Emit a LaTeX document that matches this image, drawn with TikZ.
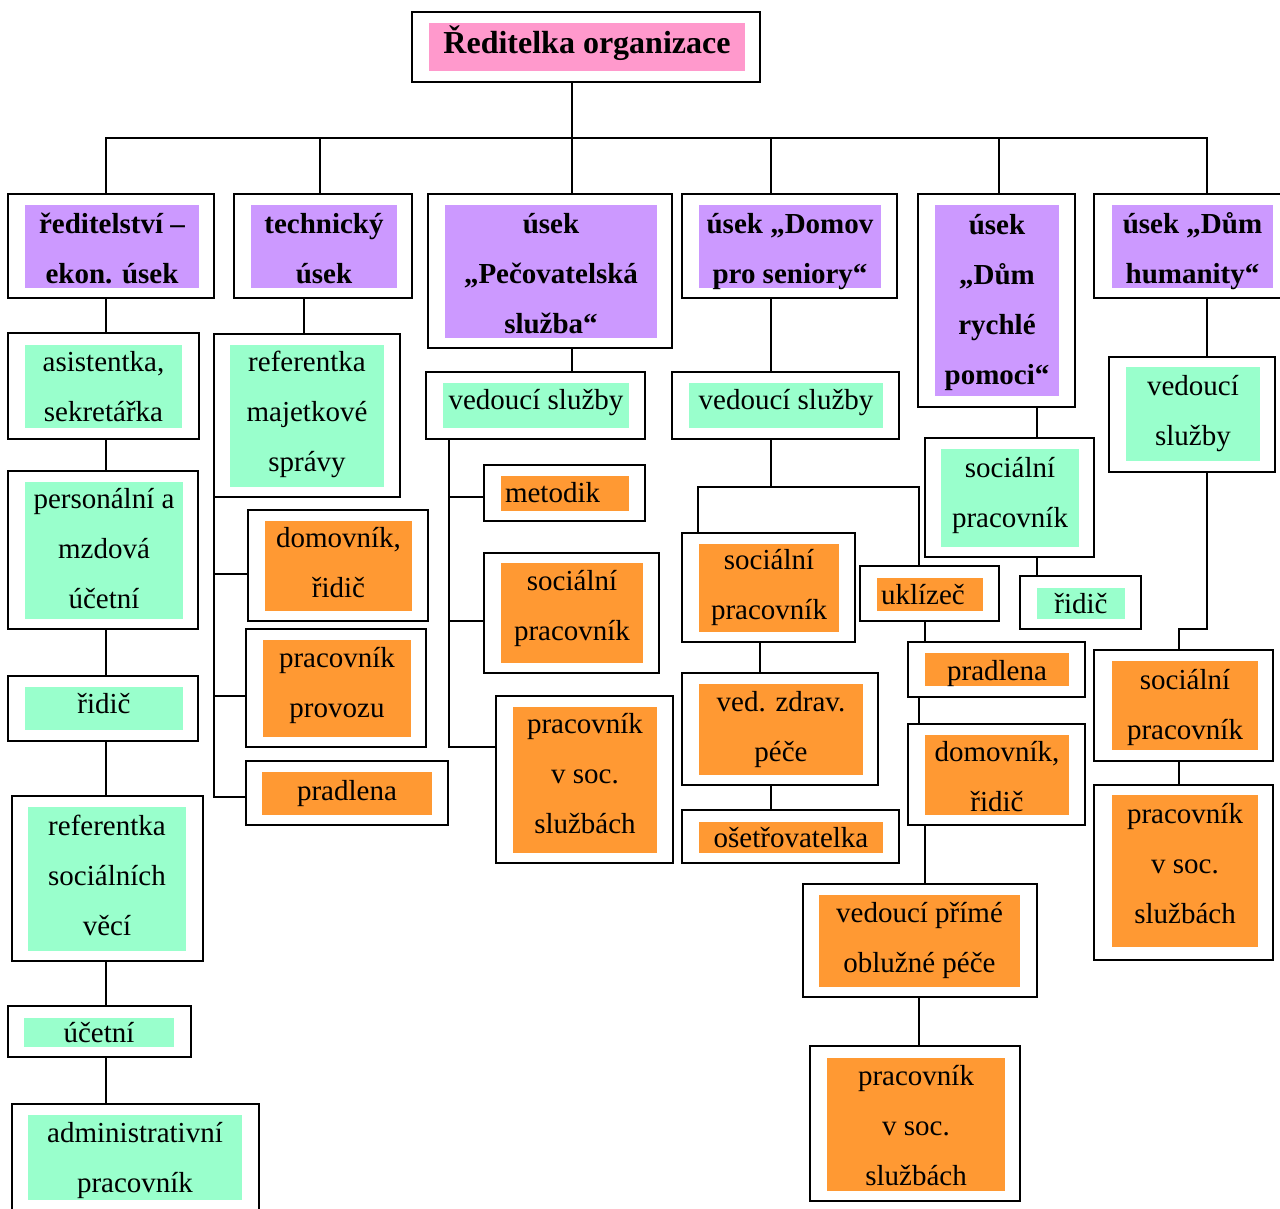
\documentclass[tikz,border=0pt]{standalone}
\usepackage{fontspec}
\setmainfont{Liberation Serif}
\definecolor{cpink}{HTML}{FF99CC}
\definecolor{cpurple}{HTML}{CC99FF}
\definecolor{cgreen}{HTML}{99FFCC}
\definecolor{corange}{HTML}{FF9933}
\newcommand\sr{\rule[-0.22em]{0pt}{0.72em}}
\newcommand\OB[5]{\node[ob,minimum width={(#4)-(#2)},minimum height={(#5)-(#3)}] (#1) at ({((#2)+(#4))/2},{((#3)+(#5))/2}) {};}
\newcommand\IB[8]{\fill[#6] (#2,#3) rectangle (#4,#5);
  \node[#7] (#1) at ({((#2)+(#4))/2},{((#3)+(#5))/2}) {\sr #8\sr};}
\begin{document}
\begin{tikzpicture}[x=1pt,y=-1pt,
  ob/.style={draw=black,line width=2pt,fill=white,inner sep=0pt,outer sep=0pt},
  tx/.style={inner sep=0pt,align=center,font=\fontsize{29pt}{50pt}\selectfont},
  hd/.style={tx,font=\fontsize{29pt}{50pt}\selectfont\bfseries,yshift=-5pt},
  lt/.style={tx,align=left,text width=#1},
  conn/.style={line width=2pt}]
\useasboundingbox (0,0) rectangle (1280,1208);
\fill[white] (0,0) rectangle (1280,1208);
% top
\OB{top}{412}{12}{760}{82}
\IB{topi}{429}{23}{745}{71}{cpink}{tx,font=\fontsize{32pt}{40pt}\selectfont\bfseries,yshift=4pt}{Ředitelka organizace}
% level 1
\OB{s1}{8}{194}{214}{298}
\IB{s1i}{25}{205}{199}{288}{cpurple}{hd}{ředitelství –\\ekon. úsek}
\OB{s2}{234}{194}{412}{298}
\IB{s2i}{251}{205}{397}{288}{cpurple}{hd}{technický\\úsek}
\OB{s3}{428}{194}{672}{348}
\IB{s3i}{445}{205}{657}{338}{cpurple}{hd}{úsek\\„Pečovatelská\\služba“}
\OB{s4}{682}{194}{897}{298}
\IB{s4i}{699}{205}{881}{288}{cpurple}{hd}{úsek „Domov\\pro seniory“}
\OB{s5}{918}{194}{1075}{407}
\IB{s5i}{935}{205}{1059}{396}{cpurple}{hd,yshift=3pt}{úsek\\„Dům\\rychlé\\pomoci“}
\OB{s6}{1094}{194}{1290}{298}
\IB{s6i}{1112}{205}{1273}{288}{cpurple}{hd}{úsek „Dům\\humanity“}
% column 1
\OB{a1}{8}{333}{199}{439}
\IB{a1i}{25}{345}{182}{428}{cgreen}{tx,yshift=-3pt}{asistentka,\\sekretářka}
\OB{a2}{8}{471}{198}{629}
\IB{a2i}{25}{482}{183}{619}{cgreen}{tx,yshift=-1pt}{personální a\\mzdová\\účetní}
\OB{a3}{8}{676}{198}{741}
\IB{a3i}{25}{687}{183}{730}{cgreen}{tx,yshift=2pt}{řidič}
\OB{a4}{12}{796}{203}{961}
\IB{a4i}{28}{807}{186}{951}{cgreen}{tx,yshift=1pt}{referentka\\sociálních\\věcí}
\OB{a5}{8}{1006}{191}{1057}
\IB{a5i}{24}{1018}{174}{1047}{cgreen}{tx,yshift=-3pt}{účetní}
\OB{a6}{12}{1104}{259}{1215}
\IB{a6i}{28}{1115}{242}{1200}{cgreen}{tx,yshift=-3pt}{administrativní\\pracovník}
% column 2
\OB{m1}{214}{334}{400}{497}
\IB{m1i}{230}{345}{384}{487}{cgreen}{tx,yshift=2pt}{referentka\\majetkové\\správy}
\OB{m2}{248}{510}{428}{621}
\IB{m2i}{265}{521}{412}{611}{corange}{tx}{domovník,\\řidič}
\OB{m3}{246}{629}{426}{747}
\IB{m3i}{263}{640}{411}{737}{corange}{tx,yshift=3pt}{pracovník\\provozu}
\OB{m4}{246}{761}{448}{825}
\IB{m4i}{262}{772}{432}{815}{corange}{tx}{pradlena}
% column 3
\OB{pv}{426}{372}{645}{439}
\IB{pvi}{443}{383}{629}{428}{cgreen}{tx,yshift=3pt}{vedoucí služby}
\OB{pm}{484}{465}{645}{521}
\IB{pmi}{501}{476}{629}{511}{corange}{lt=120pt,yshift=-2pt}{metodik}
\OB{ps}{484}{553}{659}{673}
\IB{psi}{501}{563}{643}{663}{corange}{tx,yshift=4pt}{sociální\\pracovník}
\OB{pp}{496}{696}{673}{863}
\IB{ppi}{513}{707}{657}{853}{corange}{tx,yshift=3pt}{pracovník\\v soc.\\službách}
% column 4
\OB{dv}{672}{372}{899}{439}
\IB{dvi}{689}{383}{883}{428}{cgreen}{tx,yshift=3pt}{vedoucí služby}
\OB{ds}{682}{533}{855}{642}
\IB{dsi}{699}{544}{839}{632}{corange}{tx}{sociální\\pracovník}
\OB{vz}{682}{673}{878}{785}
\IB{vzi}{699}{684}{863}{775}{corange}{tx}{ved. zdrav.\\péče}
\OB{os}{682}{810}{899}{863}
\IB{osi}{699}{822}{883}{853}{corange}{tx,yshift=-3pt}{ošetřovatelka}
\OB{uk}{860}{566}{999}{621}
\IB{uki}{877}{578}{983}{611}{corange}{lt=98pt,yshift=-3pt}{uklízeč}
\OB{pr}{908}{642}{1085}{697}
\IB{pri}{925}{653}{1069}{686}{corange}{tx,yshift=-4pt}{pradlena}
\OB{dr}{908}{724}{1085}{825}
\IB{dri}{925}{735}{1069}{815}{corange}{tx,yshift=-5pt}{domovník,\\řidič}
\OB{vp}{803}{884}{1037}{997}
\IB{vpi}{819}{895}{1020}{987}{corange}{tx}{vedoucí přímé\\oblužné péče}
\OB{pw}{810}{1046}{1020}{1201}
\IB{pwi}{827}{1058}{1005}{1191}{corange}{tx,yshift=-4pt}{pracovník\\v soc.\\službách}
% column 5
\OB{g5}{925}{438}{1094}{557}
\IB{g5i}{941}{449}{1079}{547}{cgreen}{tx,yshift=2pt}{sociální\\pracovník}
\OB{r5}{1020}{576}{1141}{629}
\IB{r5i}{1037}{588}{1125}{619}{cgreen}{tx,yshift=-3pt}{řidič}
% column 6
\OB{h6}{1109}{357}{1275}{472}
\IB{h6i}{1126}{367}{1260}{461}{cgreen}{tx}{vedoucí\\služby}
\OB{h6s}{1094}{650}{1273}{761}
\IB{h6si}{1112}{661}{1258}{750}{corange}{tx,yshift=-2pt}{sociální\\pracovník}
\OB{h6p}{1094}{785}{1273}{960}
\IB{h6pi}{1112}{795}{1258}{947}{corange}{tx,yshift=4pt}{pracovník\\v soc.\\službách}
% connectors
\coordinate (d1) at (106,138);
\coordinate (d2) at (320,138);
\coordinate (d3) at (572,138);
\coordinate (d4) at (770.5,138);
\coordinate (d5) at (998.5,138);
\coordinate (d6) at (1207,138);
\draw[conn] (s1.north -| d1) -- (d1) -- (d6) -- (s6.north -| d6);
\draw[conn] (top.south -| d3) -- (d3) -- (s3.north -| d3);
\draw[conn] (d2) -- (s2.north -| d2);
\draw[conn] (d4) -- (s4.north -| d4);
\draw[conn] (d5) -- (s5.north -| d5);
% col 1
\coordinate (c1) at (106,0);
\draw[conn] (s1.south -| c1) -- (a1.north -| c1);
\draw[conn] (a1.south -| c1) -- (a2.north -| c1);
\draw[conn] (a2.south -| c1) -- (a3.north -| c1);
\draw[conn] (a3.south -| c1) -- (a4.north -| c1);
\draw[conn] (a4.south -| c1) -- (a5.north -| c1);
\draw[conn] (a5.south -| c1) -- (a6.north -| c1);
% col 2
\coordinate (c2) at (304,0);
\coordinate (t1) at (214,574);
\coordinate (t2) at (214,696);
\coordinate (t3) at (214,797);
\draw[conn] (s2.south -| c2) -- (m1.north -| c2);
\draw[conn] (m1.south west) -- (t3) -- (t3 -| m4.west);
\draw[conn] (t1) -- (t1 -| m2.west);
\draw[conn] (t2) -- (t2 -| m3.west);
% col 3
\coordinate (c3) at (448.5,0);
\coordinate (q1) at (448.5,497);
\coordinate (q2) at (448.5,621);
\coordinate (q3) at (448.5,747);
\draw[conn] (s3.south -| d3) -- (pv.north -| d3);
\draw[conn] (pv.south -| c3) -- (q3) -- (q3 -| pp.west);
\draw[conn] (q1) -- (q1 -| pm.west);
\draw[conn] (q2) -- (q2 -| ps.west);
% col 4
\coordinate (e0) at (770.5,487);
\coordinate (eL) at (698,487);
\coordinate (eR) at (919,487);
\coordinate (c4a) at (760,0);
\coordinate (c4b) at (924.5,0);
\coordinate (c4c) at (918.5,0);
\draw[conn] (s4.south -| d4) -- (dv.north -| d4);
\draw[conn] (dv.south -| e0) -- (e0);
\draw[conn] (ds.north -| eL) -- (eL) -- (eR) -- (uk.north -| eR);
\draw[conn] (ds.south -| c4a) -- (vz.north -| c4a);
\draw[conn] (vz.south -| d4) -- (os.north -| d4);
\draw[conn] (uk.south -| c4b) -- (pr.north -| c4b);
\draw[conn] (pr.south -| c4c) -- (dr.north -| c4c);
\draw[conn] (dr.south -| c4b) -- (vp.north -| c4b);
\draw[conn] (vp.south -| c4c) -- (pw.north -| c4c);
% col 5
\coordinate (c5) at (1036.7,0);
\draw[conn] (s5.south -| c5) -- (g5.north -| c5);
\draw[conn] (g5.south -| c5) -- (r5.north -| c5);
% col 6
\coordinate (c6) at (1179,0);
\coordinate (f1) at (1207,629);
\coordinate (f2) at (1179,629);
\draw[conn] (s6.south -| d6) -- (h6.north -| d6);
\draw[conn] (h6.south -| d6) -- (f1) -- (f2) -- (h6s.north -| f2);
\draw[conn] (h6s.south -| c6) -- (h6p.north -| c6);
\end{tikzpicture}
\end{document}
